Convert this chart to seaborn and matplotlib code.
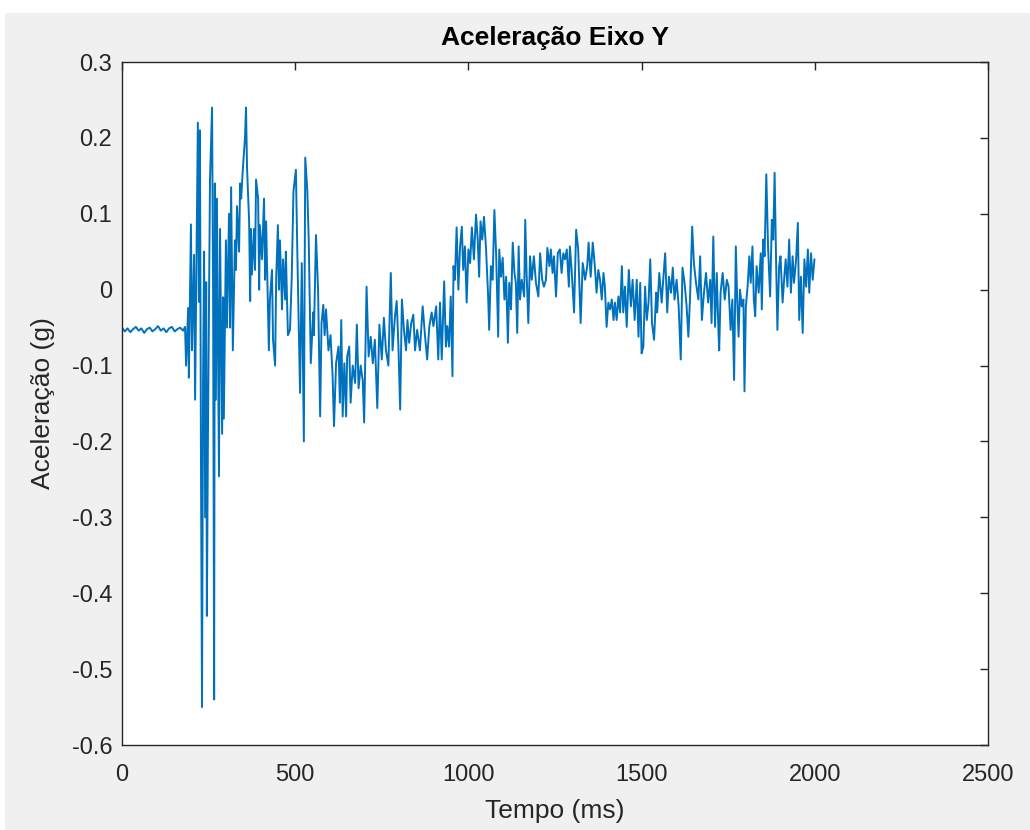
import numpy as np
import pandas as pd
import matplotlib
matplotlib.use("Agg")
import matplotlib.pyplot as plt
import seaborn as sns
from matplotlib.patches import Rectangle

# ---------------- data ----------------
time_ms = [
    0, 8, 16, 24, 32, 40, 48, 56, 64, 72, 80, 88, 96, 104, 112, 120, 128, 136, 144, 152,
    160, 168, 176, 182,
    185, 191, 193, 199, 202, 208, 211, 217, 219, 222, 225, 228, 231, 234, 237, 240,
    243, 245, 248, 254, 260, 263, 266, 268, 271, 274, 280, 283, 289, 292, 294, 300,
    303, 309, 312, 315, 320, 326, 329, 332, 338, 341, 344, 349, 355, 358, 361, 367,
    370, 372, 375, 381, 384, 387, 393, 396, 398, 404, 410, 413, 416, 424, 427, 433,
    436, 442, 445, 450, 453, 456, 462, 465, 471, 473, 479,
    485, 490, 495, 502, 506, 514, 519, 525, 529, 535, 539, 545, 552, 554, 560, 566,
    572, 576, 581, 585, 589, 596, 602, 608, 612, 618, 625, 629, 633, 637, 642, 647,
    650, 656, 660, 666, 673, 678, 683, 689, 695, 699, 706, 712, 718, 724, 730, 737,
    743, 750, 756, 762, 769, 776, 781, 788, 793, 798, 803, 808, 814, 820, 824, 829,
    835, 841, 846, 852, 860, 868, 875, 881, 887,
    894, 899, 907, 913, 918, 923, 930, 935, 939, 944, 949, 954, 957, 961, 966, 971,
    976, 981, 985, 990, 995, 1000, 1005, 1010, 1016, 1022, 1027, 1031, 1035, 1040, 1045, 1051,
    1057, 1060, 1065, 1070, 1075, 1080, 1086, 1089, 1094, 1099, 1104, 1109, 1114, 1118, 1123, 1128,
    1133, 1137, 1141, 1145, 1149, 1154, 1161, 1164, 1168, 1173, 1178, 1183, 1189, 1195, 1202, 1207,
    1213, 1218, 1224, 1228, 1234, 1238, 1243, 1247, 1253, 1258, 1264, 1269, 1274, 1279, 1284, 1290,
    1293, 1298, 1305, 1311, 1317, 1324, 1330, 1337, 1343, 1347, 1353, 1359, 1365, 1370, 1375, 1380,
    1385, 1390, 1394, 1399, 1404, 1409, 1414, 1419, 1423, 1428, 1433, 1438, 1443, 1447, 1452, 1457,
    1463, 1469, 1474, 1480, 1486, 1491, 1496, 1500, 1505, 1510, 1515, 1520, 1525, 1530, 1536, 1542,
    1545, 1551, 1558, 1563, 1568, 1574, 1579, 1585, 1590, 1595, 1601, 1607, 1613, 1618, 1624, 1630,
    1635, 1640, 1646, 1651, 1657, 1664,
    1669, 1674, 1680, 1686, 1692, 1698, 1702, 1707, 1712, 1717, 1722, 1724, 1728, 1734, 1740, 1746,
    1751, 1757, 1762, 1767, 1772, 1776, 1780, 1784, 1789, 1794, 1797, 1801, 1806, 1811, 1815, 1820,
    1824, 1828, 1832, 1838, 1844, 1847, 1851, 1855, 1860, 1865, 1871, 1876, 1880, 1884, 1888, 1892,
    1897, 1901, 1907, 1912, 1916, 1921, 1926, 1931, 1936, 1940, 1946, 1951, 1955, 1960, 1965, 1970,
    1975, 1980, 1984, 1989, 1994, 1999,
]

accel_g = [
    -0.050, -0.055, -0.051, -0.056, -0.052, -0.049, -0.054, -0.051, -0.057, -0.052, -0.050, -0.055,
    -0.052, -0.048, -0.054, -0.051, -0.056, -0.051, -0.049, -0.055, -0.052, -0.050, -0.054, -0.049,
    -0.100, -0.024, -0.116, 0.086, -0.080, 0.046, -0.145, 0.125, 0.220, -0.016, 0.210, -0.230,
    -0.550, -0.120, 0.050, -0.300, 0.010, -0.430, -0.200, 0.145, 0.240, -0.010, -0.540, 0.140,
    -0.145, 0.120, -0.246, 0.080, -0.190, -0.010, -0.170, 0.065, -0.050, 0.100, -0.050, 0.135,
    -0.080, 0.065, 0.026, 0.110, 0.050, 0.140, 0.120, 0.160, 0.200, 0.240, 0.160, 0.090,
    -0.015, 0.080, 0.020, 0.080, 0.026, 0.145, 0.120, 0.000, 0.085, 0.040, 0.120, 0.013,
    0.090, -0.080, -0.013, 0.026, -0.066, -0.100, 0.013, 0.085, 0.000, 0.065, -0.026, 0.040,
    -0.013, 0.050, -0.060,
    -0.053, 0.017, 0.130, 0.158, 0.053, -0.136, 0.035, -0.200, 0.174, 0.130, 0.066, -0.097,
    -0.030, -0.060, 0.072, 0.000, -0.167, -0.044, -0.020, -0.060, -0.026, -0.080, -0.060, -0.114,
    -0.180, -0.097, -0.075, -0.149, -0.040, -0.167, -0.097, -0.167, -0.088, -0.075, -0.149, -0.100,
    -0.123, -0.046, -0.130, -0.100, -0.120, -0.175, 0.004, -0.088, -0.062, -0.097, -0.066, -0.156,
    -0.046, -0.092, -0.037, -0.080, -0.100, 0.022, -0.080, -0.035, -0.015, -0.075, -0.158, -0.013,
    -0.053, -0.080, -0.040, -0.070, -0.044, -0.033, -0.080, -0.053, -0.080, -0.022, -0.062, -0.092,
    -0.049,
    -0.030, -0.048, -0.022, -0.092, -0.017, -0.092, 0.011, -0.075, -0.048, -0.075, -0.009, -0.114,
    0.031, 0.013, 0.082, 0.000, 0.057, 0.083, 0.026, 0.057, -0.017, 0.053, 0.035, 0.082,
    0.040, 0.099, 0.066, 0.017, 0.090, 0.066, 0.096, 0.053, -0.009, -0.053, 0.031, 0.013,
    0.105, 0.048, -0.062, 0.053, 0.017, 0.042, -0.013, 0.017, -0.070, 0.009, -0.026, 0.062,
    0.022, 0.009, -0.057, 0.057, -0.013, 0.013, -0.009, 0.092, 0.022, -0.044, 0.044, 0.013,
    0.044, 0.009, -0.009, 0.048, 0.013, 0.004, 0.013, 0.055, 0.031, 0.053, 0.022, 0.044,
    -0.009, 0.048, 0.053, 0.022, 0.048, 0.040, 0.053, 0.004,
    0.057, 0.026, -0.030, 0.079, 0.053, -0.044, 0.035, 0.013, 0.031, 0.062, 0.017, 0.062,
    0.031, -0.004, 0.026, 0.013, -0.013, 0.022, 0.004, -0.049, -0.017, -0.026, -0.013, -0.040,
    -0.017, -0.040, -0.009, -0.030, 0.031, -0.030, 0.004, -0.049, 0.026, -0.022, 0.013, -0.040,
    0.013, -0.062, 0.009, -0.084, -0.075, 0.004, -0.040, -0.017, 0.040, -0.044, -0.066, -0.004,
    -0.030, 0.022, -0.017, 0.017, 0.048, -0.030, 0.017, -0.004, 0.029, -0.013, 0.013, -0.022,
    -0.092, 0.029, 0.009, -0.022, -0.062, -0.009, 0.083, 0.035, 0.009, -0.013,
    0.044, -0.040, -0.004, 0.022, -0.017, 0.013, -0.044, 0.070, -0.049, 0.022, -0.057, -0.080,
    -0.004, 0.022, -0.013, 0.013, 0.004, -0.053, -0.013, -0.119, 0.057, -0.013, -0.062, 0.000,
    -0.022, -0.013, -0.134, -0.022, 0.004, 0.044, 0.009, 0.057, -0.013, -0.035, 0.031, -0.004,
    0.048, -0.026, 0.066, 0.044, 0.152, 0.057, -0.009, 0.092, 0.066, 0.154, 0.044, -0.053,
    0.031, 0.044, -0.017, 0.017, 0.040, 0.004, 0.066, -0.004, 0.044, 0.009, 0.040, 0.088,
    -0.040, 0.017, -0.057, 0.040, 0.004, 0.053, -0.004, 0.048, 0.013, 0.040,
]

x_ticks = [0, 500, 1000, 1500, 2000, 2500]
x_tick_labels = ["0", "500", "1000", "1500", "2000", "2500"]
y_ticks = [-0.6, -0.5, -0.4, -0.3, -0.2, -0.1, 0.0, 0.1, 0.2, 0.3]
y_tick_labels = ["-0.6", "-0.5", "-0.4", "-0.3", "-0.2", "-0.1", "0", "0.1", "0.2", "0.3"]

title_text = "Aceleração Eixo Y"
x_label = "Tempo (ms)"
y_label = "Aceleração (g)"

# ---------------- plotting ----------------
sns.set_theme(style="white")
plt.rcParams['font.family'] = ['Liberation Sans', 'DejaVu Sans']
plt.rcParams['axes.unicode_minus'] = False

W, H = 1030, 830
fig = plt.figure(figsize=(W / 100, H / 100), dpi=100, facecolor='white')
fig.patches.append(Rectangle((5 / W, 0), 1, 1 - 13 / H, transform=fig.transFigure,
                             facecolor='#F0F0F0', edgecolor='none', zorder=-10))

ax = fig.add_axes([122 / W, (H - 745) / H, 866 / W, 683 / H])
ax.set_facecolor('white')

n = min(len(time_ms), len(accel_g))
df = pd.DataFrame({x_label: time_ms[:n], y_label: accel_g[:n]})
sns.lineplot(data=df, x=x_label, y=y_label, ax=ax, color='#0072BD',
             linewidth=1.4, estimator=None, sort=False)

ax.set_xlim(0, 2500)
ax.set_ylim(-0.6, 0.3)
ax.set_xticks(x_ticks)
ax.set_xticklabels(x_tick_labels)
ax.set_yticks(y_ticks)
ax.set_yticklabels(y_tick_labels)
ax.tick_params(direction='in', length=6, width=1, top=True, right=True,
               colors='#262626', labelsize=17)
ax.tick_params(axis='x', pad=14)
ax.tick_params(axis='y', pad=7)
for s in ax.spines.values():
    s.set_color('#262626')
    s.set_linewidth(1.0)

ax.set_title(title_text, fontsize=19, fontweight='bold', color='black', pad=12)
ax.set_xlabel(x_label, fontsize=19, color='#262626', labelpad=9)
ax.set_ylabel(y_label, fontsize=19, color='#262626', labelpad=12)

fig.savefig('out.png', dpi=100, facecolor=fig.get_facecolor())
